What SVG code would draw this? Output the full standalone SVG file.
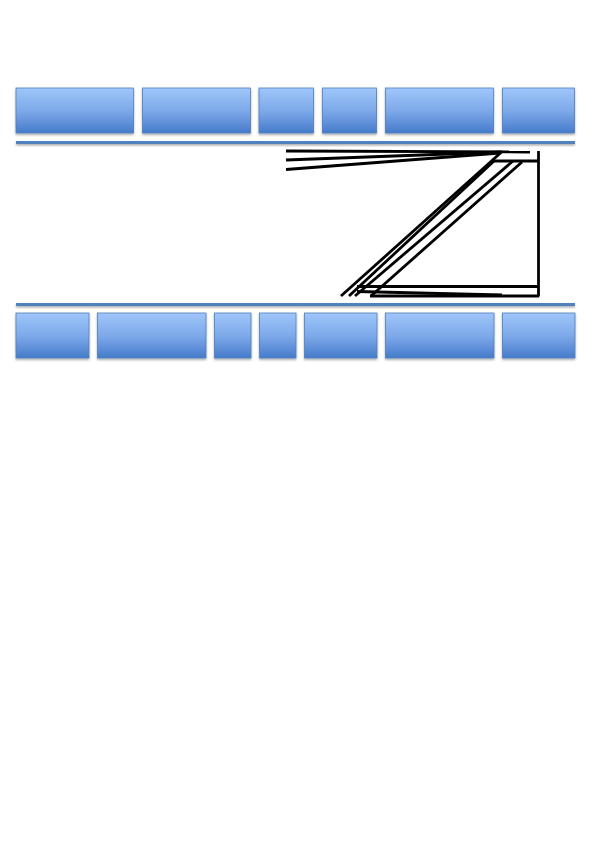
<svg xmlns="http://www.w3.org/2000/svg" width="595" height="842" viewBox="0 0 595 842">
<defs>
<linearGradient id="g" x1="0" y1="0" x2="0" y2="1">
<stop offset="0" stop-color="#a0c6fa"/>
<stop offset="0.5" stop-color="#7eaaea"/>
<stop offset="1" stop-color="#467bca"/>
</linearGradient>
<filter id="sh" x="-10%" y="-50%" width="130%" height="250%">
<feDropShadow dx="0" dy="1.5" stdDeviation="1.2" flood-color="#000" flood-opacity="0.35"/>
</filter>
</defs>
<style>
.box{fill:url(#g);stroke:#4f7fbf;stroke-width:0.8;filter:url(#sh)}
.sep{fill:#4f81bd;filter:url(#sh)}
.ln{stroke:#000;stroke-width:2.8;fill:none;stroke-linecap:butt}
</style>
<rect width="595" height="842" fill="#fff"/>
<g id="top-row">
<rect id="t1" class="box" x="16" y="88" width="117.5" height="45"/>
<rect id="t2" class="box" x="142.5" y="88" width="108" height="45"/>
<rect id="t3" class="box" x="259" y="88" width="54.5" height="45"/>
<rect id="t4" class="box" x="322.5" y="88" width="54" height="45"/>
<rect id="t5" class="box" x="385.5" y="88" width="108" height="45"/>
<rect id="t6" class="box" x="502.5" y="88" width="72" height="45"/>
</g>
<g id="separators">
<rect id="sep-top" class="sep" x="16" y="141" width="559" height="3"/>
<rect id="sep-bottom" class="sep" x="16" y="303" width="559" height="3"/>
</g>
<g id="bottom-row">
<rect id="b1" class="box" x="16" y="313" width="73" height="45"/>
<rect id="b2" class="box" x="97.5" y="313" width="108.5" height="45"/>
<rect id="b3" class="box" x="214.5" y="313" width="36.5" height="45"/>
<rect id="b4" class="box" x="259.5" y="313" width="36.5" height="45"/>
<rect id="b5" class="box" x="304.5" y="313" width="72.5" height="45"/>
<rect id="b6" class="box" x="385.5" y="313" width="108.5" height="45"/>
<rect id="b7" class="box" x="502.5" y="313" width="72.5" height="45"/>
</g>
<g id="connectors">
<line class="ln" x1="286" y1="151" x2="530" y2="152"/>
<line class="ln" x1="286" y1="160" x2="502" y2="152"/>
<line class="ln" x1="286" y1="169.5" x2="500" y2="153"/>
<line class="ln" x1="493" y1="161" x2="539" y2="161"/>
<line class="ln" x1="538.5" y1="151" x2="538.5" y2="296.5"/>
<line class="ln" x1="501" y1="152.5" x2="341" y2="296"/>
<line class="ln" x1="494" y1="161" x2="349" y2="296"/>
<line class="ln" x1="513" y1="161" x2="355" y2="296"/>
<line class="ln" x1="522" y1="162" x2="371" y2="296"/>
<line class="ln" x1="357" y1="286.5" x2="539" y2="286.5"/>
<line class="ln" x1="357" y1="291.5" x2="502" y2="295"/>
<line class="ln" x1="370" y1="296" x2="539" y2="296"/>
</g>
</svg>
